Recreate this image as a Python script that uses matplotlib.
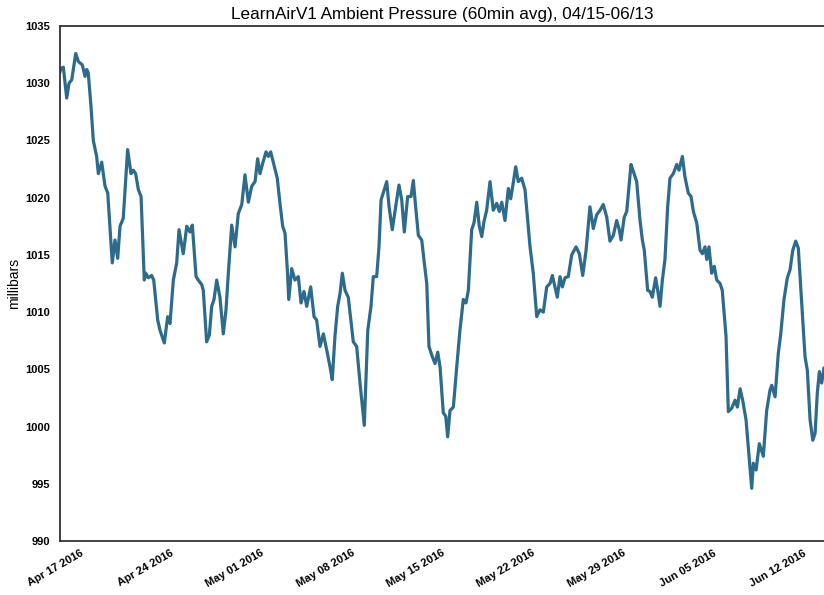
import matplotlib
matplotlib.use('Agg')
import matplotlib.pyplot as plt
import matplotlib.dates as mdates
import pandas as pd

# days since 2016-04-15 00:00 and pressure readings (mbar)
days = [0.45, 0.53, 0.71, 0.97, 1.15, 1.36, 1.67, 1.87, 2.18, 2.39, 2.52, 2.64, 2.85,
        3.03, 3.29, 3.42, 3.68, 3.94, 4.15, 4.50, 4.71, 4.92, 5.10, 5.35, 5.69, 5.95,
        6.13, 6.31, 6.52, 6.73, 6.98, 7.09, 7.29, 7.55, 7.71, 8.02, 8.20, 8.53, 8.79,
        8.97, 9.23, 9.49, 9.67, 10.00, 10.27, 10.52, 10.70, 10.99, 11.16, 11.43, 11.55,
        11.81, 12.02, 12.20, 12.38, 12.59, 12.84, 13.10, 13.31, 13.49, 13.75, 14.01,
        14.26, 14.53, 14.78, 15.04, 15.30, 15.56, 15.76, 15.94, 16.15, 16.41, 16.59,
        16.77, 16.97, 17.28, 17.49, 17.70, 17.88, 18.06, 18.17, 18.40, 18.65, 18.91,
        19.12, 19.35, 19.56, 19.87, 20.13, 20.33, 20.59, 20.85, 21.11, 21.37, 21.54,
        21.75, 21.96, 22.14, 22.32, 22.53, 22.78, 23.17, 23.43, 23.69, 24.02, 24.29,
        24.54, 24.72, 24.98, 25.16, 25.32, 25.57, 25.76, 25.94, 26.19, 26.53, 26.71,
        26.92, 27.12, 27.38, 27.64, 27.82, 28.00, 28.21, 28.47, 28.67, 28.86, 29.03,
        29.29, 29.50, 29.71, 29.89, 30.14, 30.33, 30.48, 30.66, 30.92, 31.18, 31.43,
        31.69, 31.90, 32.08, 32.34, 32.52, 32.73, 32.93, 33.12, 33.29, 33.50, 33.76,
        34.01, 34.28, 34.48, 34.67, 34.92, 35.18, 35.36, 35.56, 35.75, 35.95, 36.21,
        36.47, 36.86, 37.11, 37.38, 37.63, 37.89, 38.15, 38.41, 38.59, 38.79, 38.97,
        39.18, 39.36, 39.57, 39.82, 40.09, 40.42, 40.68, 40.94, 41.20, 41.50, 41.76,
        42.02, 42.28, 42.53, 42.80, 43.05, 43.31, 43.57, 43.75, 43.91, 44.16, 44.35,
        44.68, 44.86, 45.12, 45.38, 45.56, 45.71, 45.97, 46.15, 46.33, 46.59, 46.75,
        46.93, 47.11, 47.31, 47.52, 47.70, 47.96, 48.22, 48.40, 48.66, 48.86, 49.12,
        49.33, 49.51, 49.77, 50.03, 50.21, 50.41, 50.55, 50.72, 50.93, 51.13, 51.32,
        51.58, 51.75, 52.04, 52.22, 52.48, 52.74, 52.92, 53.13, 53.33, 53.59, 53.85,
        54.03, 54.16, 54.37, 54.62, 54.93, 55.19, 55.45, 55.58, 55.84, 56.09, 56.28,
        56.53, 56.79, 57.00, 57.21, 57.44, 57.64, 57.90, 58.16, 58.34, 58.55, 58.76,
        58.94, 59.11, 59.27, 59.45, 59.63]

pressure = [1031.0, 1031.3, 1031.4, 1028.7, 1030.0, 1030.3, 1032.6, 1031.9, 1031.6,
            1030.6, 1031.2, 1030.9, 1028.0, 1025.0, 1023.6, 1022.1, 1023.1, 1021.0,
            1020.4, 1014.3, 1016.3, 1014.7, 1017.5, 1018.2, 1024.2, 1022.1, 1022.4,
            1022.1, 1020.7, 1020.1, 1012.8, 1013.4, 1013.0, 1013.2, 1012.8, 1009.3,
            1008.4, 1007.3, 1009.6, 1009.0, 1012.8, 1014.3, 1017.2, 1015.1, 1017.5,
            1017.0, 1017.6, 1013.1, 1012.8, 1012.4, 1011.9, 1007.4, 1008.0, 1010.5,
            1011.1, 1012.8, 1011.3, 1008.1, 1010.2, 1013.4, 1017.6, 1015.7, 1018.6,
            1019.4, 1022.0, 1019.6, 1021.0, 1021.4, 1023.4, 1022.1, 1023.0, 1024.0,
            1023.6, 1024.0, 1023.1, 1021.7, 1019.5, 1017.5, 1016.9, 1013.7, 1011.1,
            1013.8, 1012.8, 1013.1, 1010.8, 1011.8, 1010.5, 1012.2, 1009.6, 1009.3,
            1007.0, 1008.1, 1006.7, 1005.2, 1004.1, 1007.9, 1010.5, 1011.6, 1013.4,
            1011.9, 1011.3, 1007.4, 1007.0, 1003.8, 1000.1, 1008.4, 1010.5, 1013.1,
            1013.1, 1015.7, 1019.8, 1020.7, 1021.4, 1019.2, 1017.2, 1019.8, 1021.1,
            1019.8, 1017.0, 1020.1, 1020.1, 1021.5, 1019.2, 1016.7, 1016.3, 1014.3,
            1012.5, 1007.0, 1006.1, 1005.5, 1006.5, 1005.2, 1001.2, 1000.9, 999.1,
            1001.4, 1001.7, 1005.2, 1008.4, 1011.1, 1010.8, 1011.9, 1017.2, 1017.8,
            1019.6, 1017.5, 1016.6, 1017.9, 1018.9, 1021.4, 1018.9, 1019.5, 1018.8,
            1019.6, 1018.0, 1020.8, 1019.9, 1021.3, 1022.7, 1021.4, 1021.7, 1020.7,
            1015.7, 1013.4, 1009.6, 1010.2, 1010.0, 1012.2, 1012.5, 1013.2, 1012.2,
            1011.3, 1013.1, 1012.2, 1013.0, 1013.1, 1015.0, 1015.7, 1015.1, 1013.2,
            1015.4, 1019.2, 1017.3, 1018.5, 1018.9, 1019.4, 1018.3, 1016.2, 1016.7,
            1018.0, 1017.3, 1016.3, 1018.3, 1018.8, 1022.9, 1022.3, 1021.4, 1018.0,
            1016.3, 1015.4, 1011.9, 1011.8, 1011.3, 1013.0, 1011.9, 1010.5, 1012.8,
            1014.6, 1019.2, 1021.7, 1022.1, 1022.9, 1022.4, 1023.6, 1021.8, 1020.4,
            1020.1, 1018.8, 1017.8, 1015.4, 1015.1, 1015.7, 1014.6, 1015.7, 1013.4,
            1014.0, 1012.8, 1012.5, 1011.9, 1007.9, 1001.3, 1001.6, 1002.3, 1001.7,
            1003.3, 1002.3, 1000.6, 997.1, 994.6, 996.8, 996.2, 998.5, 997.4, 1001.4,
            1003.2, 1003.6, 1002.6, 1006.4, 1008.1, 1011.1, 1013.0, 1013.7, 1015.4,
            1016.2, 1015.6, 1010.8, 1006.1, 1004.9, 1000.6, 998.8, 999.4, 1002.9,
            1004.8, 1003.8, 1005.1]

start = pd.Timestamp('2016-04-15')
times = start + pd.to_timedelta(days, unit='D')

plt.rcParams['font.family'] = ['Liberation Sans', 'DejaVu Sans']

fig = plt.figure(figsize=(8.24, 5.95), dpi=100)
ax = fig.add_axes([0.0728, 0.0908, 0.9272, 0.8655])

ax.plot(times, pressure, color='#2c6b8c', linewidth=2.3)

ax.set_xlim(start + pd.Timedelta(days=0.45), start + pd.Timedelta(days=59.63))
ax.set_ylim(990, 1035)
ax.set_yticks(range(990, 1036, 5))

ax.xaxis.set_major_locator(mdates.WeekdayLocator(byweekday=mdates.SU))
ax.xaxis.set_major_formatter(mdates.DateFormatter('%b %d %Y'))
for lbl in ax.get_xticklabels():
    lbl.set_rotation(30)
    lbl.set_ha('right')
    lbl.set_rotation_mode('anchor')

ax.tick_params(axis='both', length=0, labelsize=8)
ax.tick_params(axis='x', pad=5)
ax.tick_params(axis='y', pad=7)
for lbl in ax.get_xticklabels() + ax.get_yticklabels():
    lbl.set_fontweight('bold')

ax.spines['right'].set_visible(False)
for s in ['left', 'top', 'bottom']:
    ax.spines[s].set_color('#333333')
    ax.spines[s].set_linewidth(1.3)

ax.set_ylabel('millibars', fontsize=10, labelpad=3)
ax.set_title('LearnAirV1 Ambient Pressure (60min avg), 04/15-06/13', fontsize=12.3, pad=5)

fig.savefig('out.png', dpi=100)
